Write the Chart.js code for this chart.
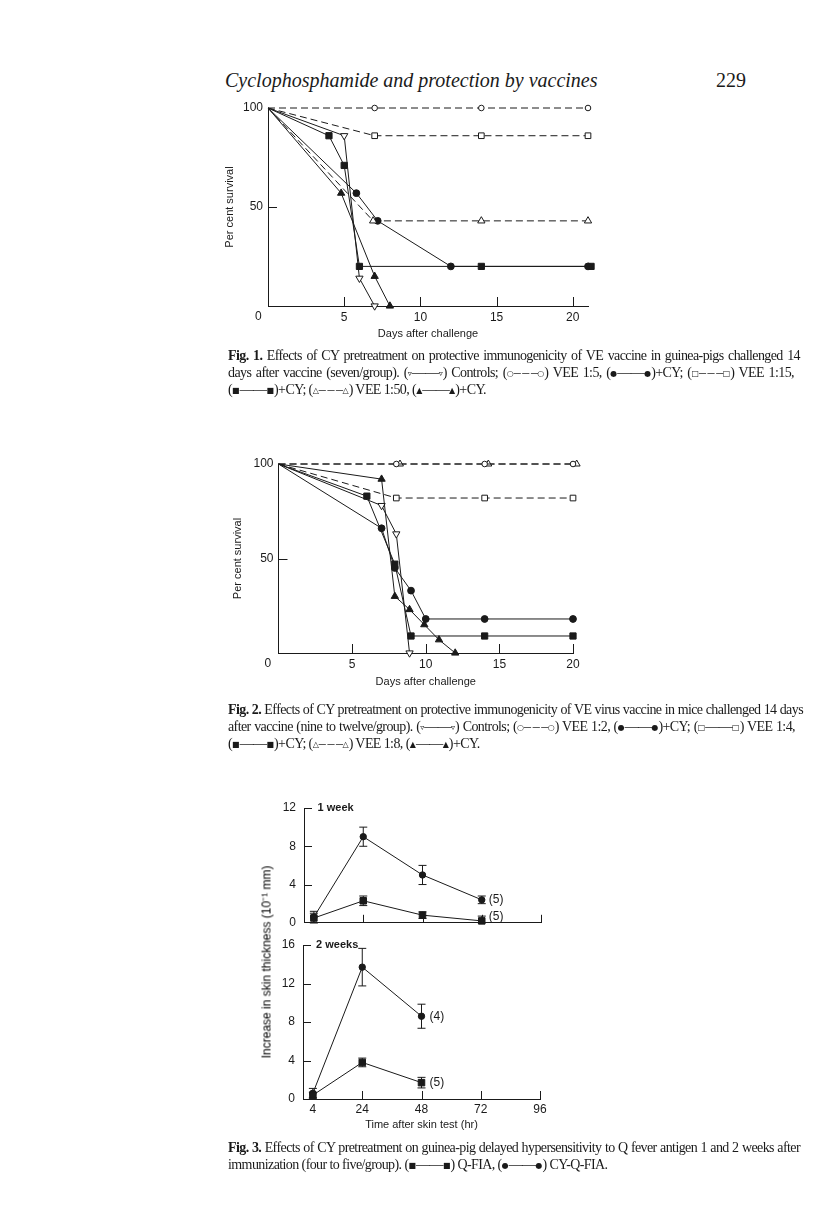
<!DOCTYPE html>
<html><head><meta charset="utf-8">
<script src="https://cdn.jsdelivr.net/npm/chart.js@4.4.1/dist/chart.umd.min.js"></script>
<style>
html,body{margin:0;padding:0;background:#fff}
body{width:816px;height:1230px;position:relative;overflow:hidden;font-family:"Liberation Serif","Times New Roman",serif;color:#1a1a1a}
canvas{position:absolute}
.hdr{position:absolute;top:68px;height:24px;line-height:24px;font-size:20px;white-space:nowrap}
.cap{position:absolute;left:228px;font-size:14px;line-height:17px}
.cap .ln{display:block;height:17px}
.cap .jl{display:inline-block;white-space:nowrap}
.s{font-family:"DejaVu Sans",sans-serif;font-size:8px;position:relative;top:-1px;letter-spacing:0}
.ytl{position:absolute;font-family:"Liberation Sans",Arial,sans-serif;font-size:12px;color:#000;white-space:nowrap;transform:translate(-50%,-50%) rotate(-90deg)}
</style></head><body>

<div class="hdr" style="left:225px;font-style:italic">Cyclophosphamide and protection by vaccines</div>
<div class="hdr" style="left:716px">229</div>

<canvas id="fig1" width="430" height="272" style="left:190px;top:78px"></canvas>
<div class="cap" style="top:347px">
<span class="ln"><span class="jl" data-w="572"><b>Fig. 1.</b> Effects of CY pretreatment on protective immunogenicity of VE vaccine in guinea-pigs challenged 14</span></span>
<span class="ln"><span class="jl" data-w="566">days after vaccine (seven/group). (<span class="s">▿</span>——<span class="s">▿</span>) Controls; (<span class="s">○</span>–&#8201;–&#8201;–<span class="s">○</span>) VEE 1:5, (<span class="s">●</span>——<span class="s">●</span>)+CY; (<span class="s">□</span>–&#8201;–&#8201;–<span class="s">□</span>) VEE 1:15,</span></span>
<span class="ln"><span class="jl">(<span class="s">■</span>——<span class="s">■</span>)+CY; (<span class="s">△</span>–&#8201;–&#8201;–<span class="s">△</span>) VEE 1:50, (<span class="s">▲</span>——<span class="s">▲</span>)+CY.</span></span>
</div>

<canvas id="fig2" width="410" height="272" style="left:190px;top:434px"></canvas>
<div class="cap" style="top:701px">
<span class="ln"><span class="jl" data-w="575"><b>Fig. 2.</b> Effects of CY pretreatment on protective immunogenicity of VE virus vaccine in mice challenged 14 days</span></span>
<span class="ln"><span class="jl" data-w="567">after vaccine (nine to twelve/group). (<span class="s">▿</span>——<span class="s">▿</span>) Controls; (<span class="s">○</span>–&#8201;–&#8201;–<span class="s">○</span>) VEE 1:2, (<span class="s">●</span>——<span class="s">●</span>)+CY; (<span class="s">□</span>——<span class="s">□</span>) VEE 1:4,</span></span>
<span class="ln"><span class="jl">(<span class="s">■</span>——<span class="s">■</span>)+CY; (<span class="s">△</span>–&#8201;–&#8201;–<span class="s">△</span>) VEE 1:8, (<span class="s">▲</span>——<span class="s">▲</span>)+CY.</span></span>
</div>

<canvas id="fig3a" width="320" height="160" style="left:240px;top:778px"></canvas>
<canvas id="fig3b" width="320" height="225" style="left:240px;top:915px"></canvas>
<div class="ytl" style="left:266px;top:962px">Increase in skin thickness (10⁻¹ mm)</div>
<div class="cap" style="top:1139px">
<span class="ln"><span class="jl" data-w="572"><b>Fig. 3.</b> Effects of CY pretreatment on guinea-pig delayed hypersensitivity to Q fever antigen 1 and 2 weeks after</span></span>
<span class="ln"><span class="jl">immunization (four to five/group). (<span class="s">■</span>——<span class="s">■</span>) Q-FIA, (<span class="s">●</span>——<span class="s">●</span>) CY-Q-FIA.</span></span>
</div>

<script>
// ---------- Fig. 1 (guinea-pigs, per cent survival vs days) ----------
const f1DaysControls = [0, 5, 6, 7];
const f1Controls     = [100, 86, 14, 0];
const f1DaysVee5     = [0, 7, 14, 21];
const f1Vee5         = [100, 100, 100, 100];
const f1DaysVee5CY   = [0, 5.8, 7.2, 12, 21];
const f1Vee5CY       = [100, 57, 43, 20, 20];
const f1DaysVee15    = [0, 7, 14, 21];
const f1Vee15        = [100, 86, 86, 86];
const f1DaysVee15CY  = [0, 4, 5, 6, 14, 21.2];
const f1Vee15CY      = [100, 86, 71, 20, 20, 20];
const f1DaysVee50    = [0, 6.9, 14, 21];
const f1Vee50        = [100, 43, 43, 43];
const f1DaysVee50CY  = [0, 4.8, 7, 8];
const f1Vee50CY      = [100, 57, 15, 0];
const f1XTicks = [0, 5, 10, 15, 20];
const f1YTicks = [50, 100];

// ---------- Fig. 2 (mice) ----------
const f2DaysControls = [0, 7, 8, 8.9];
const f2Controls     = [100, 78, 63, 0];
const f2DaysVee2     = [0, 8, 14, 20];
const f2Vee2         = [100, 100, 100, 100];
const f2DaysVee2CY   = [0, 7, 7.9, 9, 10, 14, 20];
const f2Vee2CY       = [100, 66, 45, 33, 18, 18, 18];
const f2DaysVee4     = [0, 8, 14, 20];
const f2Vee4         = [100, 82, 82, 82];
const f2DaysVee4CY   = [0, 6, 7.9, 9, 14, 20];
const f2Vee4CY       = [100, 83, 47, 9, 9, 9];
const f2DaysVee8     = [0, 8.25, 14.25, 20.25];
const f2Vee8         = [100, 100, 100, 100];
const f2DaysVee8CY   = [0, 7, 7.9, 8.9, 9.9, 10.9, 12];
const f2Vee8CY       = [100, 92, 30, 23, 15, 7, 0];
const f2XTicks = [0, 5, 10, 15, 20];
const f2YTicks = [50, 100];

// ---------- Fig. 3 (skin thickness) ----------
const f3Hours1   = [4, 24, 48, 72];
const wk1CYQ     = [0.6, 9.0, 5.0, 2.4];
const wk1CYQErr  = [0.6, 1.0, 1.0, 0.4];
const wk1Q       = [0.5, 2.3, 0.8, 0.2];
const wk1QErr    = [0.5, 0.5, 0.35, 0.5];
const f3Hours2   = [4, 24, 48];
const wk2CYQ     = [0.6, 13.7, 8.6];
const wk2CYQErr  = [0.5, 1.95, 1.25];
const wk2Q       = [0.4, 3.8, 1.7];
const wk2QErr    = [0.3, 0.45, 0.55];
const f3XTicks   = [4, 24, 48, 72, 96];
const f3YTicksTop = [0, 4, 8, 12];
const f3YTicksBot = [0, 4, 8, 12, 16];

const INK = '#1a1a1a';
const SANS = '"Liberation Sans", Arial, sans-serif';

const pts = (xs, ys) => xs.map((x, i) => ({x, y: ys[i]}));

function ser(xs, ys, o) {
  const r = o.r || 3.5;
  const radii = xs.map((x, i) => (o.hideFirst && i === 0) ? 0 : r);
  return {
    data: pts(xs, ys),
    borderColor: INK, borderWidth: 1,
    borderDash: o.dashed ? [7, 4] : [],
    pointStyle: o.style || 'circle',
    rotation: o.rot || 0,
    pointRadius: radii,
    pointBackgroundColor: o.filled ? INK : '#fff',
    pointBorderColor: INK, pointBorderWidth: 1,
    tension: 0, fill: false, clip: false, showLine: true,
    errors: o.errors
  };
}

const decorPlugin = {
  id: 'decor',
  beforeDatasetsDraw(chart, args, o) {
    const {ctx, scales: {x, y}} = chart;
    ctx.save();
    ctx.strokeStyle = INK; ctx.lineWidth = 1;
    const len = o.tickLen || 8;
    (o.xMarks || []).forEach(v => {
      const px = Math.round(x.getPixelForValue(v)) + 0.5;
      ctx.beginPath(); ctx.moveTo(px, y.bottom); ctx.lineTo(px, y.bottom - len); ctx.stroke();
    });
    (o.yMarks || []).forEach(v => {
      const py = Math.round(y.getPixelForValue(v)) + 0.5;
      ctx.beginPath(); ctx.moveTo(x.left, py); ctx.lineTo(x.left + len, py); ctx.stroke();
    });
    chart.data.datasets.forEach(ds => {
      if (!ds.errors) return;
      ds.data.forEach((d, j) => {
        const e = ds.errors[j]; if (!e) return;
        const px = x.getPixelForValue(d.x);
        const top = y.getPixelForValue(d.y + e);
        const bot = y.getPixelForValue(Math.max(0, d.y - e));
        const c = 4;
        ctx.beginPath();
        ctx.moveTo(px, top); ctx.lineTo(px, bot);
        ctx.moveTo(px - c, top); ctx.lineTo(px + c, top);
        ctx.moveTo(px - c, bot); ctx.lineTo(px + c, bot);
        ctx.stroke();
      });
    });
    ctx.restore();
  },
  afterDatasetsDraw(chart, args, o) {
    const {ctx, scales: {x, y}} = chart;
    ctx.save(); ctx.fillStyle = INK; ctx.textBaseline = 'middle'; ctx.textAlign = 'left';
    (o.notes || []).forEach(n => {
      ctx.font = n.font || ('12px ' + SANS);
      ctx.fillText(n.text, x.getPixelForValue(n.x) + (n.dx || 0), y.getPixelForValue(n.y) + (n.dy || 0));
    });
    ctx.restore();
  }
};

function makeChart(id, datasets, c) {
  return new Chart(document.getElementById(id), {
    type: 'line',
    data: {datasets},
    options: {
      responsive: false, animation: false, devicePixelRatio: 1,
      layout: {padding: c.padding},
      plugins: {legend: {display: false}, tooltip: {enabled: false}, decor: c.decor},
      scales: {
        x: {
          type: 'linear', min: c.xmin, max: c.xmax,
          afterFit: s => { s.height = c.xh; },
          afterBuildTicks: s => { s.ticks = c.xticks.map(v => ({value: v})); },
          grid: {display: false, drawTicks: false},
          border: {display: true, color: INK, width: 1},
          ticks: {display: c.xlabels, padding: c.xpad || 4, color: INK, autoSkip: false, maxRotation: 0,
                  font: {family: SANS, size: 12},
                  callback: v => (c.hideX0 && v === 0) ? '' : String(v)},
          title: {display: !!c.xtitle, text: c.xtitle || '', color: INK,
                  font: {family: SANS, size: 11, lineHeight: 1.2}, padding: {top: 0, bottom: c.xtpad || 0}}
        },
        y: {
          type: 'linear', min: c.ymin, max: c.ymax,
          afterFit: s => { s.width = c.yw; },
          afterBuildTicks: s => { s.ticks = c.yticks.map(v => ({value: v})); },
          grid: {display: false, drawTicks: false},
          border: {display: true, color: INK, width: 1},
          ticks: {padding: c.ypad || 5, color: INK, autoSkip: false,
                  font: {family: SANS, size: 12}, callback: v => String(v)},
          title: {display: !!c.ytitle, text: c.ytitle || '', color: INK,
                  font: {family: SANS, size: 11, lineHeight: 1.2}, padding: {top: c.ytpad || 0, bottom: 0}}
        }
      }
    },
    plugins: [decorPlugin]
  });
}

function justifyCaptions() {
  const lines = [...document.querySelectorAll('.jl[data-w]')];
  const caps = [...document.querySelectorAll('.cap')];
  let ls = 0;
  lines.forEach(el => {
    el.style.wordSpacing = '0px';
    const w = el.getBoundingClientRect().width;
    const chars = el.textContent.length;
    ls = Math.min(ls, (+el.dataset.w - w) / chars);
  });
  ls -= 0.05;
  caps.forEach(c => c.style.letterSpacing = ls + 'px');
  lines.forEach(el => {
    el.style.wordSpacing = '0px';
    const w = el.getBoundingClientRect().width;
    const n = (el.textContent.match(/ /g) || []).length;
    if (n) el.style.wordSpacing = ((+el.dataset.w - w) / n) + 'px';
  });
}

function init() {
  makeChart('fig1', [
    ser(f1DaysVee5, f1Vee5, {dashed: true, style: 'circle', r: 2.8, hideFirst: true}),
    ser(f1DaysVee15, f1Vee15, {dashed: true, style: 'rect', r: 4, hideFirst: true}),
    ser(f1DaysVee50, f1Vee50, {dashed: true, style: 'triangle', r: 4.2, hideFirst: true}),
    ser(f1DaysVee5CY, f1Vee5CY, {filled: true, style: 'circle', r: 3.4, hideFirst: true}),
    ser(f1DaysVee15CY, f1Vee15CY, {filled: true, style: 'rect', r: 4.4, hideFirst: true}),
    ser(f1DaysVee50CY, f1Vee50CY, {filled: true, style: 'triangle', r: 4.2, hideFirst: true}),
    ser(f1DaysControls, f1Controls, {style: 'triangle', rot: 180, r: 4.2, hideFirst: true})
  ], {
    padding: {left: 0, right: 32, top: 30, bottom: 0},
    xmin: 0, xmax: 21, ymin: 0, ymax: 100,
    xticks: f1XTicks, yticks: f1YTicks, xlabels: true, hideX0: true,
    xh: 44, yw: 78, xpad: 4, ypad: 5,
    xtitle: 'Days after challenge', xtpad: 9.4,
    ytitle: 'Per cent survival', ytpad: 33.4,
    decor: {xMarks: [5, 10, 15, 20], yMarks: [50], tickLen: 9,
      notes: [{x: 0, y: 0, dx: -13, dy: 11, text: '0'}]}
  });

  makeChart('fig2', [
    ser(f2DaysVee2, f2Vee2, {dashed: true, style: 'circle', r: 2.8, hideFirst: true}),
    ser(f2DaysVee8, f2Vee8, {dashed: true, style: 'triangle', r: 4, hideFirst: true}),
    ser(f2DaysVee4, f2Vee4, {dashed: true, style: 'rect', r: 4, hideFirst: true}),
    ser(f2DaysVee2CY, f2Vee2CY, {filled: true, style: 'circle', r: 3.4, hideFirst: true}),
    ser(f2DaysVee4CY, f2Vee4CY, {filled: true, style: 'rect', r: 4.4, hideFirst: true}),
    ser(f2DaysVee8CY, f2Vee8CY, {filled: true, style: 'triangle', r: 4.2, hideFirst: true}),
    ser(f2DaysControls, f2Controls, {style: 'triangle', rot: 180, r: 4.2, hideFirst: true})
  ], {
    padding: {left: 0, right: 27, top: 30, bottom: 0},
    xmin: 0, xmax: 20, ymin: 0, ymax: 100,
    xticks: f2XTicks, yticks: f2YTicks, xlabels: true, hideX0: true,
    xh: 53, yw: 88.5, xpad: 4, ypad: 5,
    xtitle: 'Days after challenge', xtpad: 17.4,
    ytitle: 'Per cent survival', ytpad: 41.4,
    decor: {xMarks: [5, 10, 15, 20], yMarks: [50], tickLen: 9,
      notes: [{x: 0, y: 0, dx: -14, dy: 11, text: '0'}]}
  });

  makeChart('fig3a', [
    ser(f3Hours1, wk1Q, {filled: true, style: 'rect', r: 4.6, errors: wk1QErr}),
    ser(f3Hours1, wk1CYQ, {filled: true, style: 'circle', r: 3.2, errors: wk1CYQErr})
  ], {
    padding: {left: 0, right: 19, top: 30, bottom: 0},
    xmin: 0, xmax: 96, ymin: 0, ymax: 12,
    xticks: f3XTicks, yticks: f3YTicksTop, xlabels: false,
    xh: 10, yw: 64, ypad: 8,
    decor: {xMarks: [24, 48, 72, 96], yMarks: [4, 8, 12], tickLen: 8,
      notes: [
        {x: 5.5, y: 12, text: '1 week', font: 'bold 11px ' + SANS},
        {x: 72, y: 2.4, dx: 7, text: '(5)'},
        {x: 72, y: 0.6, dx: 7, text: '(5)'}
      ]}
  });

  makeChart('fig3b', [
    ser(f3Hours2, wk2Q, {filled: true, style: 'rect', r: 4.6, errors: wk2QErr}),
    ser(f3Hours2, wk2CYQ, {filled: true, style: 'circle', r: 3.2, errors: wk2CYQErr})
  ], {
    padding: {left: 0, right: 20, top: 30, bottom: 0},
    xmin: 0, xmax: 96, ymin: 0, ymax: 16,
    xticks: f3XTicks, yticks: f3YTicksBot, xlabels: true,
    xh: 41, yw: 63, xpad: 3, ypad: 8,
    xtitle: 'Time after skin test (hr)', xtpad: 8.4,
    decor: {xMarks: [24, 48, 72, 96], yMarks: [4, 8, 12, 16], tickLen: 8,
      notes: [
        {x: 5.3, y: 16, text: '2 weeks', font: 'bold 11px ' + SANS},
        {x: 48, y: 8.6, dx: 8, text: '(4)'},
        {x: 48, y: 1.7, dx: 8, text: '(5)'}
      ]}
  });

  justifyCaptions();
}

if (document.fonts && document.fonts.ready) document.fonts.ready.then(init); else init();
</script>
</body></html>
